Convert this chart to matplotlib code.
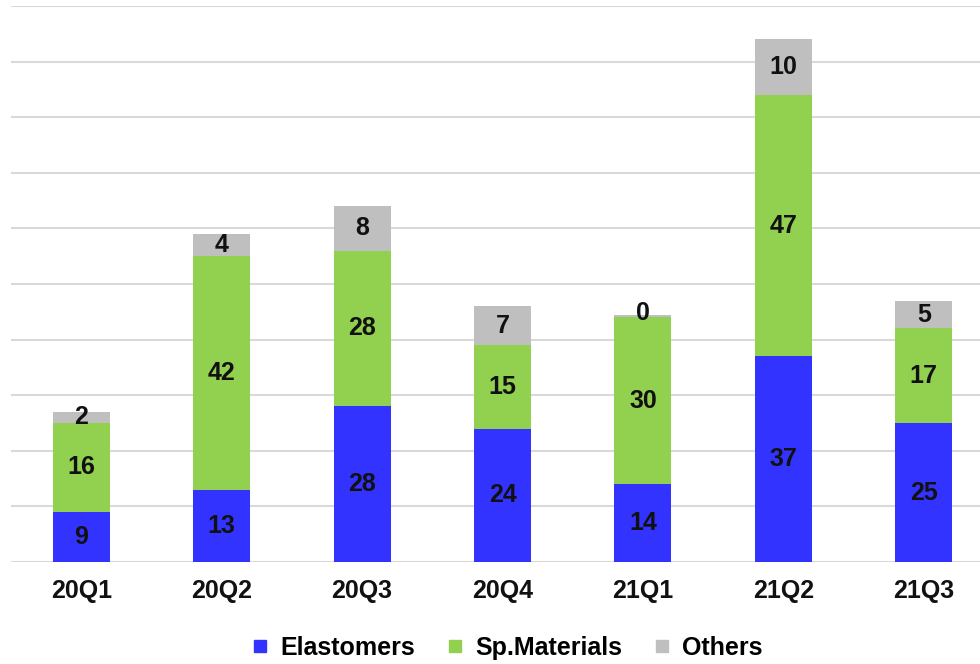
import numpy as np
import matplotlib.pyplot as plt
from matplotlib.lines import Line2D

plt.rcParams['font.family'] = ['Liberation Sans', 'DejaVu Sans']

quarters = ['20Q1', '20Q2', '20Q3', '20Q4', '21Q1', '21Q2', '21Q3']
elastomers = [9, 13, 28, 24, 14, 37, 25]
sp_materials = [16, 42, 28, 15, 30, 47, 17]
others = [2, 4, 8, 7, 0.4, 10, 5]

names = ['Elastomers', 'Sp.Materials', 'Others']
colors = ['#3333FF', '#92D050', '#BFBFBF']

fig = plt.figure(figsize=(9.8, 6.64), dpi=100)
ax = fig.add_axes([11 / 980, (664 - 562) / 664, 983 / 980, 556 / 664])

x = np.arange(len(quarters))
bottom = np.zeros(len(quarters))
for vals, name, c in zip([elastomers, sp_materials, others], names, colors):
    vals = np.array(vals, dtype=float)
    ax.bar(x, vals, bottom=bottom, width=0.405, color=c, label=name, zorder=2)
    for xi, b, v in zip(x, bottom, vals):
        ax.text(xi, b + max(v, 1.4) / 2, '%.0f' % v, ha='center', va='center',
                fontsize=18, fontweight='bold', color='#111111', zorder=3)
    bottom += vals

ax.set_xlim(-0.5, len(quarters) - 0.5)
ax.set_ylim(0, 100)
ax.set_yticks(np.arange(0, 101, 10))
ax.yaxis.grid(True, color='#D9D9D9', linewidth=1.5, zorder=0)
ax.set_axisbelow(True)
ax.tick_params(axis='y', left=False, labelleft=False)
ax.tick_params(axis='x', length=0, pad=12)
ax.set_xticks(x)
ax.set_xticklabels(quarters, fontsize=18, fontweight='bold', color='#111111')
for s in ax.spines.values():
    s.set_visible(False)

handles = [Line2D([], [], marker='s', linestyle='', markersize=8, color=c) for c in colors]
fig.legend(handles, names, loc='center', bbox_to_anchor=(505 / 980, 1 - 648 / 664),
           ncol=3, frameon=False, prop={'size': 18, 'weight': 'bold'},
           handletextpad=0.3, columnspacing=1.1, handlelength=1.0)

fig.savefig('out.png', dpi=100)
